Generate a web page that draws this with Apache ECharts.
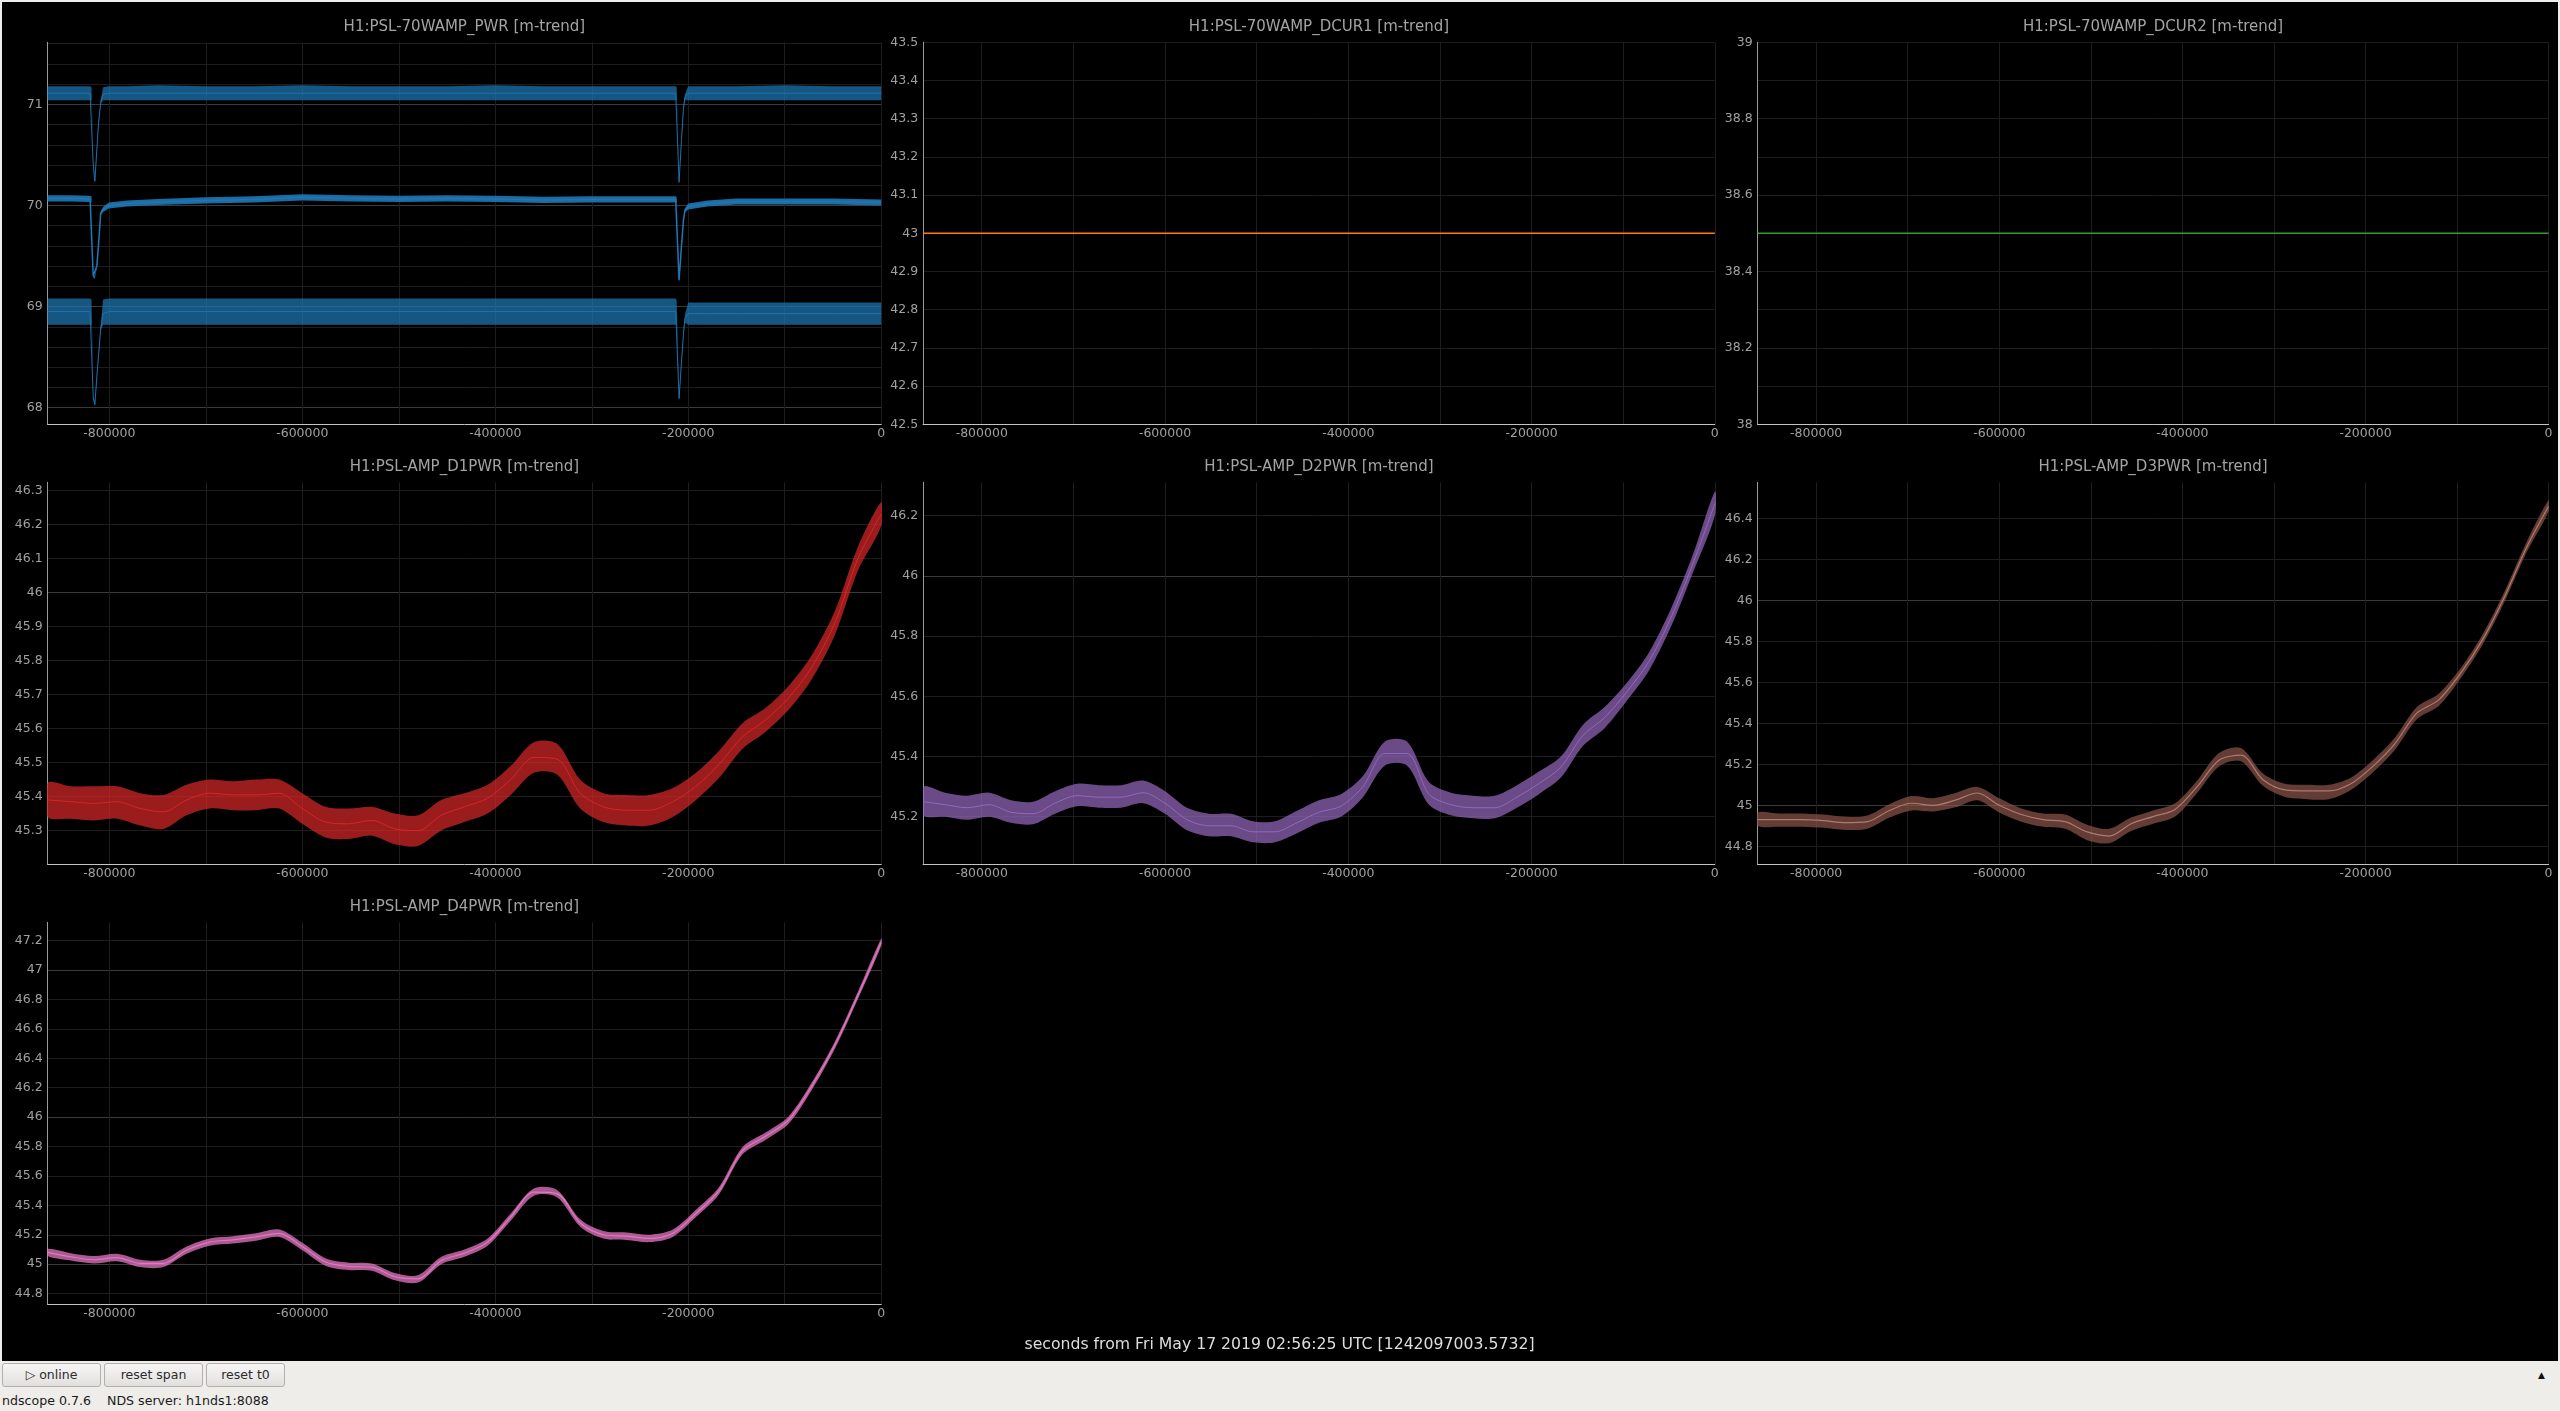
<!DOCTYPE html>
<html><head><meta charset="utf-8">
<script src="https://cdn.jsdelivr.net/npm/echarts@6.0.0/dist/echarts.min.js"></script>
<style>
html,body{margin:0;padding:0;background:#efedea;width:2560px;height:1411px;overflow:hidden;font-family:'DejaVu Sans',sans-serif;}
#chart{position:absolute;left:2px;top:2px;width:2556px;height:1359px;background:#000;}
.btn{position:absolute;top:1363px;height:24px;box-sizing:border-box;border:1px solid #b3b0ac;border-radius:3px;background:linear-gradient(#f7f6f5,#e2e0dd);font-size:12.5px;color:#2b2b2b;line-height:22px;text-align:center;}
#status{position:absolute;left:2px;top:1393px;font-size:12.6px;color:#1a1a1a;white-space:pre;}
#arrow{position:absolute;left:2538px;top:1370px;font-size:9px;color:#111;}
</style></head>
<body>
<div id="chart"></div>
<div class="btn" style="left:2px;width:99px;">&#9655; online</div>
<div class="btn" style="left:104px;width:99px;">reset span</div>
<div class="btn" style="left:206px;width:79px;">reset t0</div>
<div id="status">ndscope 0.7.6    NDS server: h1nds1:8088</div>
<div id="arrow">&#9650;</div>
<script>
// ---------------- data ----------------
const X_MIN = -864000, X_MAX = 0;
const X_LABEL_STEP = 200000;
const X_GRID_SPLIT = 9;
const AXIS_NOTE = 'seconds from Fri May 17 2019 02:56:25 UTC [1242097003.5732]';

const TITLES = [
  'H1:PSL-70WAMP_PWR [m-trend]',
  'H1:PSL-70WAMP_DCUR1 [m-trend]',
  'H1:PSL-70WAMP_DCUR2 [m-trend]',
  'H1:PSL-AMP_D1PWR [m-trend]',
  'H1:PSL-AMP_D2PWR [m-trend]',
  'H1:PSL-AMP_D3PWR [m-trend]',
  'H1:PSL-AMP_D4PWR [m-trend]'
];
// y ranges [min, max], minor grid step, label step
const Y_RANGES = [[67.835,71.614],[42.5,43.5],[38,39],[45.201,46.3235],[45.042,46.311],[44.712,46.577],[44.727,47.325]];
const Y_MINOR = [0.2,0.1,0.1,0.1,0.2,0.2,0.2];
const Y_LABEL = [1,0.1,0.2,0.1,0.2,0.2,0.2];

// PWR (m-trend max / mean / min)
const T_PWR = [-864000,-840000,-820000,-818500,-816700,-815000,-813000,-811300,-809000,-806500,-800500,-782000,-750000,-700000,-650000,-600000,-550000,-500000,-450000,-400000,-350000,-300000,-250000,-213000,-212000,-209500,-207000,-205000,-203500,-200000,-180000,-150000,-100000,-50000,0];
const PWR_MAX_MID = [71.11,71.11,71.11,71.10,70.40,70.24,70.55,70.80,71.02,71.10,71.11,71.11,71.11,71.11,71.11,71.11,71.11,71.11,71.11,71.11,71.11,71.11,71.11,71.11,71.10,70.23,70.65,70.95,71.07,71.11,71.11,71.11,71.11,71.11,71.11];
const PWR_MAX_LO  = [71.04,71.04,71.04,71.04,70.38,70.22,70.53,70.78,71.00,71.04,71.04,71.04,71.04,71.04,71.04,71.04,71.04,71.04,71.04,71.04,71.04,71.04,71.04,71.04,71.04,70.21,70.63,70.93,71.04,71.04,71.04,71.04,71.04,71.04,71.04];
const PWR_MAX_HI  = [71.18,71.18,71.18,71.17,70.42,70.26,70.57,70.82,71.04,71.17,71.18,71.18,71.19,71.18,71.18,71.19,71.18,71.18,71.18,71.19,71.18,71.18,71.18,71.18,71.17,70.25,70.67,70.97,71.10,71.18,71.18,71.18,71.19,71.18,71.18];
const PWR_MEAN_MID = [70.07,70.07,70.065,70.06,69.30,69.29,69.40,69.60,69.92,69.96,70.00,70.02,70.035,70.05,70.06,70.08,70.07,70.065,70.07,70.065,70.055,70.06,70.06,70.06,70.05,69.26,69.60,69.85,69.95,69.99,70.02,70.04,70.04,70.04,70.03];
const PWR_MEAN_LO  = [70.04,70.04,70.035,70.03,69.285,69.275,69.385,69.585,69.90,69.935,69.97,69.99,70.005,70.02,70.03,70.05,70.04,70.035,70.04,70.035,70.025,70.03,70.03,70.03,70.02,69.245,69.585,69.835,69.93,69.96,69.99,70.01,70.01,70.01,70.00];
const PWR_MEAN_HI  = [70.10,70.10,70.095,70.09,69.315,69.305,69.415,69.615,69.94,69.985,70.03,70.05,70.065,70.08,70.09,70.11,70.10,70.095,70.10,70.095,70.085,70.09,70.09,70.09,70.08,69.275,69.615,69.865,69.97,70.02,70.05,70.07,70.07,70.07,70.06];
const PWR_MIN_MID = [68.95,68.95,68.95,68.94,68.10,68.03,68.30,68.50,68.78,68.93,68.95,68.95,68.95,68.95,68.95,68.95,68.95,68.95,68.95,68.95,68.95,68.95,68.95,68.95,68.94,68.09,68.45,68.72,68.88,68.93,68.93,68.93,68.93,68.93,68.93];
const PWR_MIN_LO  = [68.82,68.82,68.82,68.82,68.08,68.01,68.28,68.48,68.76,68.82,68.82,68.82,68.82,68.82,68.82,68.82,68.82,68.82,68.82,68.82,68.82,68.82,68.82,68.82,68.82,68.07,68.43,68.70,68.84,68.82,68.82,68.82,68.82,68.82,68.82];
const PWR_MIN_HI  = [69.08,69.08,69.08,69.07,68.12,68.05,68.32,68.52,68.80,69.07,69.08,69.08,69.08,69.08,69.08,69.08,69.08,69.08,69.08,69.08,69.08,69.08,69.08,69.08,69.06,68.11,68.47,68.74,68.92,69.04,69.04,69.04,69.04,69.04,69.04];

// DCUR1 / DCUR2 (flat)
const T_FLAT = [-864000, 0];
const DCUR1 = [43, 43];
const DCUR2 = [38.5, 38.5];

// D1..D4 (mean, lower and upper envelope)
const T_D = [-864000,-840000,-816000,-792000,-768000,-744000,-720000,-696000,-672000,-648000,-624000,-600000,-576000,-552000,-528000,-504000,-480000,-456000,-432000,-408000,-384000,-360000,-336000,-312000,-288000,-264000,-240000,-216000,-192000,-168000,-144000,-120000,-96000,-72000,-48000,-24000,0];
const D1_MID = [45.39,45.385,45.38,45.385,45.365,45.355,45.39,45.41,45.405,45.405,45.41,45.365,45.325,45.32,45.33,45.305,45.30,45.345,45.37,45.395,45.45,45.515,45.51,45.41,45.37,45.36,45.36,45.385,45.43,45.495,45.575,45.625,45.69,45.78,45.91,46.10,46.23];
const D1_LO  = [45.34,45.335,45.33,45.335,45.315,45.305,45.345,45.365,45.36,45.36,45.365,45.32,45.28,45.275,45.285,45.26,45.255,45.30,45.325,45.35,45.405,45.47,45.465,45.365,45.325,45.315,45.315,45.34,45.39,45.455,45.54,45.59,45.655,45.745,45.875,46.065,46.195];
const D1_HI  = [45.44,45.43,45.43,45.43,45.41,45.405,45.435,45.45,45.445,45.45,45.45,45.41,45.37,45.365,45.37,45.35,45.345,45.39,45.41,45.435,45.49,45.56,45.555,45.45,45.41,45.405,45.405,45.425,45.47,45.535,45.615,45.66,45.725,45.815,45.945,46.135,46.265];
const D2_MID = [45.25,45.24,45.23,45.24,45.215,45.21,45.245,45.27,45.265,45.265,45.28,45.245,45.19,45.17,45.17,45.15,45.15,45.18,45.215,45.235,45.30,45.41,45.41,45.275,45.24,45.23,45.23,45.265,45.31,45.365,45.47,45.53,45.615,45.715,45.86,46.04,46.24];
const D2_LO  = [45.205,45.20,45.19,45.20,45.18,45.175,45.21,45.235,45.23,45.23,45.245,45.21,45.155,45.135,45.135,45.115,45.115,45.145,45.18,45.20,45.265,45.37,45.37,45.24,45.205,45.195,45.195,45.23,45.275,45.33,45.435,45.495,45.585,45.685,45.83,46.01,46.20];
const D2_HI  = [45.30,45.28,45.27,45.28,45.255,45.25,45.285,45.31,45.305,45.305,45.32,45.285,45.23,45.21,45.21,45.185,45.185,45.22,45.255,45.275,45.335,45.45,45.45,45.315,45.28,45.27,45.27,45.305,45.35,45.40,45.505,45.565,45.645,45.745,45.89,46.07,46.28];
const D3_MID = [44.93,44.93,44.93,44.925,44.915,44.92,44.975,45.01,45.00,45.025,45.06,45.00,44.955,44.93,44.92,44.87,44.85,44.91,44.945,44.98,45.09,45.22,45.245,45.125,45.075,45.07,45.07,45.105,45.19,45.30,45.45,45.515,45.645,45.81,46.02,46.26,46.46];
const D3_LO  = [44.90,44.895,44.895,44.89,44.88,44.885,44.94,44.975,44.97,44.99,45.025,44.965,44.92,44.895,44.885,44.83,44.815,44.875,44.91,44.945,45.06,45.19,45.215,45.095,45.04,45.03,45.03,45.075,45.16,45.27,45.42,45.485,45.62,45.785,45.995,46.235,46.435];
const D3_HI  = [44.965,44.96,44.96,44.955,44.945,44.95,45.005,45.045,45.035,45.06,45.09,45.035,44.985,44.96,44.955,44.905,44.885,44.94,44.975,45.01,45.12,45.255,45.28,45.155,45.105,45.10,45.10,45.135,45.22,45.33,45.48,45.545,45.67,45.835,46.045,46.285,46.49];
const D4_MID = [45.08,45.05,45.03,45.045,45.005,45.005,45.095,45.15,45.165,45.185,45.21,45.12,45.015,44.985,44.98,44.915,44.90,45.025,45.075,45.15,45.32,45.49,45.48,45.28,45.20,45.19,45.175,45.21,45.345,45.50,45.77,45.87,45.98,46.21,46.49,46.83,47.19];
const D4_LO  = [45.055,45.025,45.005,45.02,44.98,44.98,45.07,45.125,45.14,45.16,45.185,45.095,44.99,44.96,44.955,44.89,44.875,45.00,45.05,45.125,45.295,45.465,45.455,45.255,45.175,45.165,45.15,45.185,45.32,45.475,45.745,45.845,45.955,46.185,46.465,46.805,47.165];
const D4_HI  = [45.105,45.075,45.055,45.07,45.03,45.03,45.12,45.175,45.19,45.21,45.235,45.145,45.04,45.01,45.005,44.94,44.925,45.05,45.10,45.175,45.345,45.515,45.505,45.305,45.225,45.215,45.20,45.235,45.37,45.525,45.795,45.895,46.005,46.235,46.515,46.855,47.215];

// ---------------- layout / style ----------------
const COL_LEFT = [45.6, 921.1, 1755.6];
const COL_WIDTH = [833.6, 791.7, 791.0];
const ROW_TOP = [40.3, 480.3, 920.3];
const PLOT_H = 382;
const PANEL_POS = [[0,0],[1,0],[2,0],[0,1],[1,1],[2,1],[0,2]];
const C = {blue:'#1f77b4', orange:'#ff7f0e', green:'#2ca02c', red:'#d62728', purple:'#9467bd', brown:'#8c564b', pink:'#e377c2'};
const FONT = 'DejaVu Sans';
const LABEL_COLOR = '#a0a0a0';
const MINOR_GRID = '#1d1d1d';
const MAJOR_GRID = '#3a3a3a';

function isMult(v, step){ const q = v/step; return Math.abs(q - Math.round(q)) < 1e-4; }
function fmt(v){ return String(parseFloat(v.toFixed(4))); }
function rgba(hex, a){ const n=parseInt(hex.slice(1),16); return 'rgba('+((n>>16)&255)+','+((n>>8)&255)+','+(n&255)+','+a+')'; }

const grids=[], xAxes=[], yAxes=[], graphics=[];
PANEL_POS.forEach(function(p, i){
  const left=COL_LEFT[p[0]], width=COL_WIDTH[p[0]], top=ROW_TOP[p[1]];
  grids.push({left:left, top:top, width:width, height:PLOT_H, containLabel:false});
  xAxes.push({gridIndex:i, type:'value', min:X_MIN, max:X_MAX, splitNumber:X_GRID_SPLIT,
    axisLine:{show:true, onZero:false, lineStyle:{color:'#c4c4c4', width:1}},
    axisTick:{show:false},
    axisLabel:{color:LABEL_COLOR, fontSize:12.5, fontFamily:FONT, margin:3, hideOverlap:false, showMinLabel:true, showMaxLabel:true,
      formatter:function(v){ return isMult(v, X_LABEL_STEP) ? String(Math.round(v)) : ''; }},
    splitLine:{show:true, showMinLine:false, showMaxLine:true, lineStyle:{color:MINOR_GRID, width:1}}
  });
  const r=Y_RANGES[i], mn=Y_MINOR[i], ls=Y_LABEL[i];
  yAxes.push({gridIndex:i, type:'value', position:'left', min:r[0], max:r[1], splitNumber:Math.round((r[1]-r[0])/mn),
    axisLine:{show:true, onZero:false, lineStyle:{color:'#9a9a9a', width:1}},
    axisTick:{show:false},
    axisLabel:{color:LABEL_COLOR, fontSize:12.5, fontFamily:FONT, margin:5, showMinLabel:true, showMaxLabel:true,
      formatter:function(v){ return isMult(v, ls) ? fmt(v) : ''; }},
    splitLine:{show:true, showMinLine:false, showMaxLine:isMult(r[1], mn), lineStyle:{color:MINOR_GRID, width:1}}
  });
  yAxes.push({gridIndex:i, type:'value', position:'left', min:r[0], max:r[1], splitNumber:Math.max(1, Math.round(r[1]-r[0])),
    axisLine:{show:false, onZero:false}, axisTick:{show:false}, axisLabel:{show:false},
    splitLine:{show:true, showMinLine:false, showMaxLine:false, lineStyle:{color:MAJOR_GRID, width:1}}
  });
  graphics.push({type:'text', x:left+width/2, y:top-15.5, silent:true,
    style:{text:TITLES[i], fill:'#a3a3a3', fontSize:15, fontFamily:FONT, align:'center', verticalAlign:'middle'}});
});
graphics.push({type:'text', x:1277.5, y:1343, silent:true,
  style:{text:AXIS_NOTE, fill:'#dedede', fontSize:15.7, fontFamily:FONT, align:'center', verticalAlign:'middle'}});

function band(i, T, lo, hi, color, op, smooth){
  return {type:'custom', xAxisIndex:i, yAxisIndex:2*i, clip:true, silent:true, animation:false, z:2,
    data:[[T[0], lo[0]]],
    renderItem:function(params, api){
      const top=[], bot=[];
      for (let k=0;k<T.length;k++) top.push(api.coord([T[k], hi[k]]));
      for (let k=T.length-1;k>=0;k--) bot.push(api.coord([T[k], lo[k]]));
      if (!smooth) {
        return {type:'polygon', shape:{points:top.concat(bot)}, style:{fill:rgba(color, op), stroke:null}};
      }
      // smoothed outline: upper and lower edges drawn as smoothed polylines, filled between
      return {type:'group', children:[
        {type:'polygon', shape:{points:top.concat(bot), smooth:smooth}, style:{fill:rgba(color, op), stroke:null}}
      ]};
    }};
}
function line(i, T, v, color, w, op, smooth){
  return {type:'line', xAxisIndex:i, yAxisIndex:2*i, data:T.map(function(t,k){return [t, v[k]];}),
    symbol:'none', showSymbol:false, silent:true, animation:false, z:3, smooth:smooth || false,
    lineStyle:{color:color, width:w, opacity:op}};
}

const series = [
  band(0, T_PWR, PWR_MAX_LO, PWR_MAX_HI, C.blue, 0.72), line(0, T_PWR, PWR_MAX_MID, C.blue, 1, 0.9),
  band(0, T_PWR, PWR_MEAN_LO, PWR_MEAN_HI, C.blue, 0.9), line(0, T_PWR, PWR_MEAN_MID, C.blue, 1.5, 1),
  band(0, T_PWR, PWR_MIN_LO, PWR_MIN_HI, C.blue, 0.72), line(0, T_PWR, PWR_MIN_MID, C.blue, 1, 0.9),
  line(1, T_FLAT, DCUR1, C.orange, 1.5, 1),
  line(2, T_FLAT, DCUR2, C.green, 1.5, 1),
  band(3, T_D, D1_LO, D1_HI, C.red, 0.72, 0.3), line(3, T_D, D1_MID, C.red, 1, 1, 0.3),
  band(4, T_D, D2_LO, D2_HI, C.purple, 0.72, 0.3), line(4, T_D, D2_MID, C.purple, 1, 1, 0.3),
  band(5, T_D, D3_LO, D3_HI, C.brown, 0.7, 0.3), line(5, T_D, D3_MID, '#b07a6c', 1.2, 1, 0.3),
  band(6, T_D, D4_LO, D4_HI, C.pink, 0.75, 0.3), line(6, T_D, D4_MID, C.pink, 1.2, 1, 0.3)
];

const chart = echarts.init(document.getElementById('chart'), null, {renderer:'canvas'});
chart.setOption({
  backgroundColor:'#000', animation:false,
  textStyle:{fontFamily:FONT},
  grid:grids, xAxis:xAxes, yAxis:yAxes, series:series, graphic:graphics
});
</script>
</body></html>
